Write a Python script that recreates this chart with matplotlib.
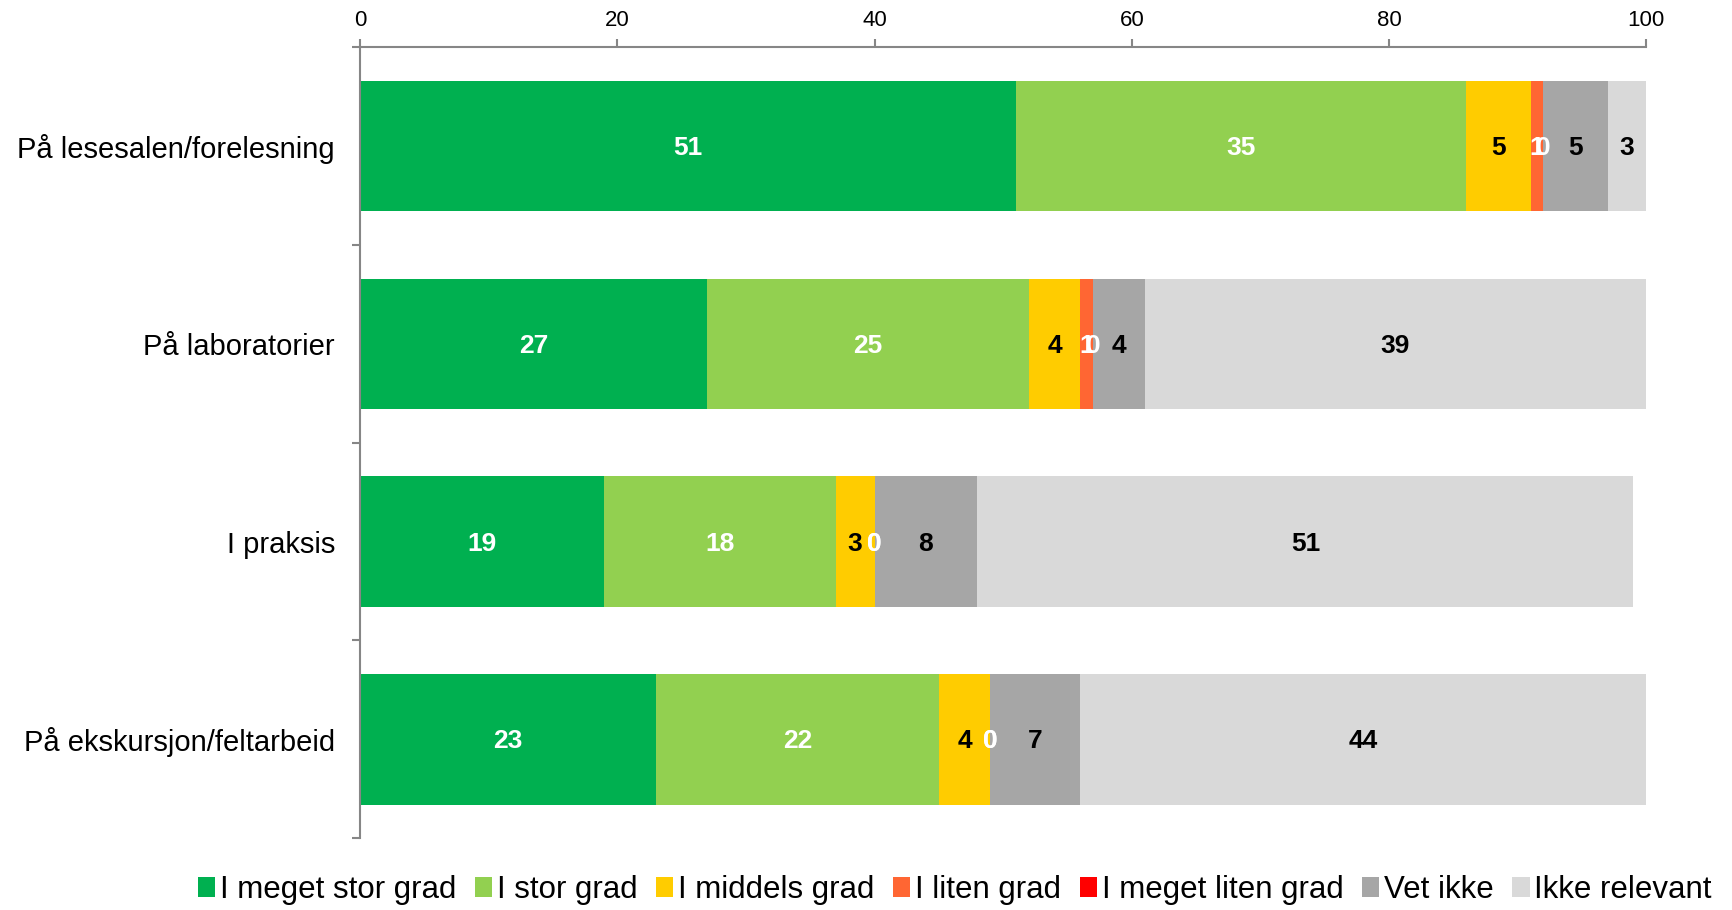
import matplotlib.pyplot as plt
import numpy as np
from matplotlib.patches import Patch

plt.rcParams['font.family'] = ['Liberation Sans', 'DejaVu Sans']

categories = ['På lesesalen/forelesning', 'På laboratorier', 'I praksis', 'På ekskursjon/feltarbeid']
series = ['I meget stor grad', 'I stor grad', 'I middels grad', 'I liten grad',
          'I meget liten grad', 'Vet ikke', 'Ikke relevant']
values = {
    'I meget stor grad': [51, 27, 19, 23],
    'I stor grad': [35, 25, 18, 22],
    'I middels grad': [5, 4, 3, 4],
    'I liten grad': [1, 1, 0, 0],
    'I meget liten grad': [0, 0, 0, 0],
    'Vet ikke': [5, 4, 8, 7],
    'Ikke relevant': [3, 39, 51, 44],
}
colors = ['#00B050', '#92D050', '#FFCC00', '#FF6633', '#FF0000', '#A6A6A6', '#D9D9D9']
label_colors = ['white', 'white', 'black', 'white', 'white', 'black', 'black']

fig = plt.figure(figsize=(17.33, 9.10), dpi=100)
ax = fig.add_axes([0.2077, 0.079, 0.7423, 0.869])

y = np.arange(len(categories))
left = np.zeros(len(categories))
for name, col, lc in zip(series, colors, label_colors):
    v = np.array(values[name], dtype=float)
    ax.barh(y, v, left=left, height=0.66, color=col, label=name)
    for yi, (l, w) in enumerate(zip(left, v)):
        ax.text(l + w / 2, yi + 0.01, f'{int(w)}', ha='center', va='center',
                color=lc, fontsize=19, fontweight='bold')
    left += v

ax.set_xlim(0, 100)
ax.set_ylim(3.5, -0.5)
ax.xaxis.tick_top()
ax.set_xticks(np.arange(0, 101, 20))
ax.tick_params(axis='x', labelsize=16, color='#868686', length=6, width=1.5, pad=6)

ax.set_yticks(y)
ax.set_yticklabels(categories, fontsize=21)
ax.set_yticks(np.arange(-0.5, 4, 1), minor=True)
ax.tick_params(axis='y', which='major', length=0, pad=18)
ax.tick_params(axis='y', which='minor', length=6, width=1.5, color='#868686')

for s in ['right', 'bottom']:
    ax.spines[s].set_visible(False)
for s in ['left', 'top']:
    ax.spines[s].set_color('#868686')
    ax.spines[s].set_linewidth(1.5)

handles = [Patch(facecolor=c, edgecolor='none') for c in colors]
fig.legend(handles, series, loc='lower right', bbox_to_anchor=(1.004, -0.025), ncol=7,
           frameon=False, fontsize=22.5, handlelength=0.55, handleheight=0.6,
           handletextpad=0.15, columnspacing=0.6)

fig.savefig('out.png', dpi=100)
